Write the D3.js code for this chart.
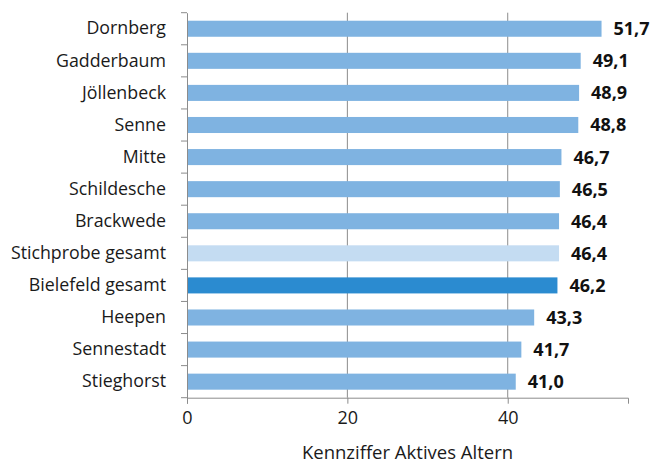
<!DOCTYPE html>
<html><head><meta charset="utf-8">
<script src="https://cdn.jsdelivr.net/npm/d3@7"></script>
<style>body{margin:0;background:#fff}</style>
</head><body>
<svg id="c" width="654" height="464"></svg>
<script>
const categories = ["Dornberg","Gadderbaum","Jöllenbeck","Senne","Mitte","Schildesche","Brackwede","Stichprobe gesamt","Bielefeld gesamt","Heepen","Sennestadt","Stieghorst"];
const values = [51.7,49.1,48.9,48.8,46.7,46.5,46.4,46.4,46.2,43.3,41.7,41.0];
const barColors = ["#7fb3e1","#7fb3e1","#7fb3e1","#7fb3e1","#7fb3e1","#7fb3e1","#7fb3e1","#c4dcf2","#2b8bd0","#7fb3e1","#7fb3e1","#7fb3e1"];
const xTicks = [0,20,40];
const xTitle = "Kennziffer Aktives Altern";

const svg = d3.select("#c");
const m = {l:187, r:628, t:12.7, b:397.7};
const x = d3.scaleLinear().domain([0,55]).range([m.l, m.r]);
const y = d3.scaleBand().domain(categories).range([m.t, m.b]).paddingInner(0.5).paddingOuter(0.25);
const font = "'Open Sans', sans-serif";

// gridlines
svg.append("g").selectAll("line").data(xTicks.filter(d=>d>0)).join("line")
  .attr("x1",d=>x(d)).attr("x2",d=>x(d)).attr("y1",m.t).attr("y2",m.b)
  .attr("stroke","#8c8c8c").attr("stroke-width",1);

// bars
svg.append("g").selectAll("rect").data(values).join("rect")
  .attr("x",x(0)).attr("y",(d,i)=>y(categories[i]))
  .attr("width",d=>x(d)-x(0)).attr("height",y.bandwidth())
  .attr("fill",(d,i)=>barColors[i]);

// x axis
const xa = svg.append("g").attr("transform",`translate(0,${m.b})`)
  .call(d3.axisBottom(x).tickValues(xTicks).tickSizeOuter(0).tickSize(6).tickPadding(8));
xa.select(".domain").attr("stroke","#8c8c8c");
xa.selectAll(".tick line").attr("stroke","#8c8c8c");
xa.selectAll("text").attr("font-family",font).attr("font-size",18).attr("fill","#1a1a1a");

// y axis
const yBands = d3.scaleBand().domain(categories).range([m.t,m.b]);
const ya = svg.append("g").attr("transform",`translate(${m.l},0)`)
  .call(d3.axisLeft(y).tickSize(0).tickPadding(21).tickSizeOuter(0));
ya.select(".domain").attr("stroke","#8c8c8c");
ya.selectAll("text").attr("font-family",font).attr("font-size",17.8).attr("fill","#1a1a1a");
// band separator ticks
svg.append("g").selectAll("line").data(d3.range(categories.length+1)).join("line")
  .attr("x1",m.l-6).attr("x2",m.l)
  .attr("y1",i=>m.t + i*yBands.step()).attr("y2",i=>m.t + i*yBands.step())
  .attr("stroke","#8c8c8c");

// value labels
svg.append("g").selectAll("text").data(values).join("text")
  .attr("x",d=>x(d)+12).attr("y",(d,i)=>y(categories[i])+y.bandwidth()/2)
  .attr("dy","0.36em").attr("font-family",font).attr("font-weight","bold")
  .attr("font-size",18).attr("fill","#111")
  .text(d=>d.toFixed(1).replace(".",","));

// title
svg.append("text").attr("x",(m.l+m.r)/2).attr("y",459)
  .attr("text-anchor","middle").attr("font-family",font).attr("font-size",18.5).attr("fill","#1a1a1a")
  .text(xTitle);
</script>
</body></html>
